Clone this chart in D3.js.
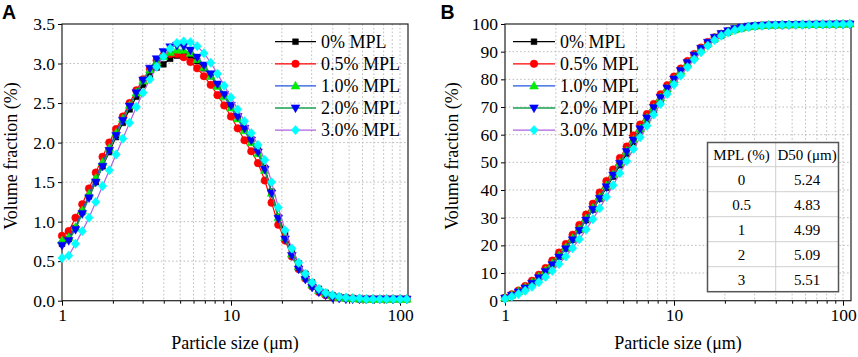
<!DOCTYPE html>
<html>
<head>
<meta charset="utf-8">
<script src="https://cdn.jsdelivr.net/npm/d3@7"></script>
<style>
  html, body { margin: 0; padding: 0; background: #fff; }
  svg { display: block; }
</style>
</head>
<body>
<svg id="chart" width="858" height="357"></svg>
<script>
// ---------------- DATA ----------------
const seriesNames = ["0% MPL", "0.5% MPL", "1.0% MPL", "2.0% MPL", "3.0% MPL"];

// particle size bins (µm)
const sizes = [1.000,1.096,1.202,1.318,1.445,1.585,1.738,1.905,2.089,2.291,
  2.512,2.754,3.020,3.311,3.631,3.981,4.365,4.786,5.248,5.754,
  6.310,6.918,7.586,8.318,9.120,10.00,10.96,12.02,13.18,14.45,
  15.85,17.38,19.05,20.89,22.91,25.12,27.54,30.20,33.11,36.31,
  39.81,43.65,47.86,52.48,57.54,63.10,69.18,75.86,83.18,91.20,
  100.0,109.6];

// Panel A: volume fraction (%)
const fracMPL0 = [0.72,0.78,0.92,1.12,1.32,1.50,1.70,1.88,2.07,2.25,
  2.42,2.58,2.73,2.85,2.95,2.99,3.06,3.10,3.12,3.10,
  3.03,2.94,2.84,2.72,2.60,2.47,2.33,2.18,2.04,1.90,
  1.68,1.38,1.06,0.85,0.64,0.47,0.34,0.23,0.15,0.10,
  0.07,0.05,0.04,0.03,0.02,0.02,0.02,0.02,0.02,0.02,0.02,0.02];
const fracMPL05 = [0.82,0.88,1.05,1.22,1.42,1.62,1.82,2.00,2.17,2.33,
  2.50,2.66,2.80,2.93,3.04,3.10,3.12,3.12,3.08,3.02,
  2.94,2.84,2.73,2.60,2.47,2.33,2.18,2.03,1.89,1.74,
  1.52,1.24,0.96,0.76,0.56,0.40,0.28,0.18,0.11,0.07,
  0.05,0.04,0.03,0.03,0.02,0.02,0.02,0.02,0.02,0.02,0.02,0.02];
const fracMPL1 = [0.76,0.80,0.93,1.14,1.35,1.55,1.75,1.93,2.12,2.30,
  2.47,2.63,2.78,2.92,3.02,3.09,3.14,3.17,3.17,3.13,
  3.05,2.95,2.84,2.71,2.58,2.44,2.30,2.15,2.00,1.86,
  1.65,1.36,1.05,0.80,0.59,0.43,0.30,0.20,0.13,0.09,
  0.06,0.04,0.03,0.03,0.02,0.02,0.02,0.02,0.02,0.02,0.02,0.02];
const fracMPL2 = [0.70,0.76,0.90,1.10,1.30,1.50,1.70,1.90,2.09,2.28,
  2.46,2.63,2.79,2.94,3.06,3.15,3.21,3.23,3.22,3.17,
  3.08,2.98,2.87,2.74,2.61,2.47,2.33,2.18,2.03,1.88,
  1.66,1.36,1.04,0.78,0.57,0.40,0.27,0.17,0.11,0.07,
  0.04,0.03,0.02,0.02,0.02,0.02,0.02,0.02,0.02,0.02,0.02,0.02];
const fracMPL3 = [0.54,0.57,0.72,0.88,1.05,1.25,1.45,1.65,1.85,2.05,
  2.25,2.45,2.63,2.80,2.96,3.09,3.19,3.26,3.28,3.27,
  3.22,3.13,3.01,2.87,2.72,2.57,2.42,2.27,2.12,1.97,
  1.78,1.50,1.18,0.89,0.66,0.48,0.34,0.23,0.15,0.10,
  0.07,0.05,0.04,0.03,0.03,0.02,0.02,0.02,0.02,0.02,0.02,0.02];

// Panel B: cumulative volume fraction (%)
const cumMPL0 = [0.95,1.99,3.21,4.69,6.44,8.43,10.68,13.17,15.92,18.90,
  22.10,25.52,29.14,32.92,36.83,40.79,44.85,48.95,53.09,57.20,
  61.21,65.11,68.87,72.48,75.92,79.19,82.28,85.17,87.87,90.39,
  92.62,94.45,95.85,96.98,97.83,98.45,98.90,99.21,99.40,99.54,
  99.63,99.69,99.75,99.79,99.81,99.84,99.87,99.89,99.92,99.95,99.97,100.0];
const cumMPL05 = [1.10,2.27,3.67,5.30,7.20,9.37,11.80,14.47,17.37,20.48,
  23.82,27.38,31.12,35.03,39.10,43.24,47.41,51.58,55.69,59.73,
  63.66,67.45,71.10,74.57,77.87,80.99,83.90,86.61,89.14,91.46,
  93.49,95.15,96.43,97.45,98.20,98.73,99.10,99.35,99.49,99.59,
  99.65,99.71,99.75,99.79,99.81,99.84,99.87,99.89,99.92,99.95,99.97,100.0];
const cumMPL1 = [1.00,2.05,3.28,4.78,6.56,8.60,10.90,13.44,16.23,19.26,
  22.51,25.98,29.64,33.48,37.46,41.53,45.66,49.84,54.01,58.13,
  62.15,66.03,69.77,73.34,76.74,79.95,82.98,85.81,88.44,90.89,
  93.06,94.85,96.23,97.29,98.06,98.63,99.03,99.29,99.46,99.58,
  99.66,99.71,99.75,99.79,99.81,99.84,99.87,99.89,99.92,99.95,99.97,100.0];
const cumMPL2 = [0.92,1.92,3.11,4.56,6.27,8.24,10.48,12.98,15.73,18.73,
  21.97,25.43,29.11,32.98,37.01,41.15,45.38,49.63,53.87,58.04,
  62.10,66.02,69.80,73.41,76.84,80.09,83.16,86.03,88.70,91.18,
  93.36,95.16,96.52,97.55,98.30,98.83,99.18,99.41,99.55,99.64,
  99.70,99.74,99.76,99.79,99.82,99.84,99.87,99.89,99.92,99.95,99.97,100.0];
const cumMPL3 = [0.72,1.48,2.43,3.61,5.00,6.67,8.59,10.79,13.25,15.98,
  18.97,22.23,25.73,29.46,33.39,37.51,41.75,46.09,50.45,54.80,
  59.09,63.25,67.26,71.07,74.69,78.11,81.33,84.35,87.17,89.80,
  92.16,94.16,95.73,96.91,97.79,98.43,98.88,99.19,99.39,99.52,
  99.61,99.68,99.73,99.77,99.81,99.84,99.87,99.89,99.92,99.95,99.97,100.0];

// Table in panel B
const tableHeader = ["MPL (%)", "D50 (\u03bcm)"];
const tableMPL = ["0", "0.5", "1", "2", "3"];
const tableD50 = ["5.24", "4.83", "4.99", "5.09", "5.51"];

// Tick labels
const xMajorTicks = [1, 10, 100];
const xMinorTicks = [2,3,4,5,6,7,8,9,20,30,40,50,60,70,80,90];
const yTicksA = [0.0,0.5,1.0,1.5,2.0,2.5,3.0,3.5];
const yTicksB = [0,10,20,30,40,50,60,70,80,90,100];

// ---------------- STYLE ----------------
const styles = [
  { line: "#000000", fill: "#000000", shape: "square" },
  { line: "#ff0000", fill: "#ff0000", shape: "circle" },
  { line: "#1f56e0", fill: "#00ee00", shape: "triUp" },
  { line: "#1aa050", fill: "#0000ff", shape: "triDown" },
  { line: "#b060e0", fill: "#00ffff", shape: "diamond" }
];
const serif = "Liberation Serif";

function symbolPath(shape) {
  switch (shape) {
    case "square": { const s = 5.8; return `M${-s/2},${-s/2}h${s}v${s}h${-s}Z`; }
    case "circle": { const r = 3.8; return `M${r},0A${r},${r} 0 1,1 ${-r},0A${r},${r} 0 1,1 ${r},0Z`; }
    case "triUp": { const w = 8.8, h = 7.8; return `M0,${-h*0.6}L${w/2},${h*0.4}L${-w/2},${h*0.4}Z`; }
    case "triDown": { const w = 8.8, h = 7.8; return `M0,${h*0.6}L${w/2},${-h*0.4}L${-w/2},${-h*0.4}Z`; }
    case "diamond": { const w = 8.4, h = 9.4; return `M0,${-h/2}L${w/2},0L0,${h/2}L${-w/2},0Z`; }
  }
}

const svg = d3.select("#chart");

function drawPanel(cfg) {
  const x = d3.scaleLog().domain([1, 111.5]).range([cfg.left, cfg.right]);
  const y = d3.scaleLinear().domain(cfg.yDomain).range([cfg.bottom, cfg.top]);
  const g = svg.append("g");

  // grid
  const grid = g.append("g").attr("stroke", "#bdbdbd").attr("stroke-width", 1)
    .attr("stroke-dasharray", "1.6,2.2").attr("fill", "none");
  grid.selectAll("line.vx").data(xMinorTicks.concat([10, 100])).join("line")
    .attr("x1", d => x(d)).attr("x2", d => x(d))
    .attr("y1", cfg.top).attr("y2", cfg.bottom);
  grid.selectAll("line.hy").data(cfg.yTicks.filter(t => t > cfg.yDomain[0] && t < cfg.yDomain[1])).join("line")
    .attr("x1", cfg.left).attr("x2", cfg.right)
    .attr("y1", d => y(d)).attr("y2", d => y(d));

  // axes
  const xAxis = g.append("g").attr("transform", `translate(0,${cfg.bottom})`)
    .call(d3.axisBottom(x).tickValues(xMajorTicks).tickFormat(d3.format("d")).tickSize(5).tickPadding(3));
  xAxis.select(".domain").remove();
  xAxis.selectAll("text").attr("y", 8).attr("dy", "0.71em")
    .attr("font-family", serif).attr("font-size", 17.5).attr("fill", "#000");
  xAxis.selectAll("line").attr("stroke", "#000");
  const xMinor = g.append("g").attr("transform", `translate(0,${cfg.bottom})`)
    .call(d3.axisBottom(x).tickValues(xMinorTicks).tickFormat("").tickSize(3));
  xMinor.select(".domain").remove();
  xMinor.selectAll("line").attr("stroke", "#000");

  const yAxis = g.append("g").attr("transform", `translate(${cfg.left},0)`)
    .call(d3.axisLeft(y).tickValues(cfg.yTicks).tickFormat(cfg.yFormat).tickSize(4).tickPadding(3));
  yAxis.select(".domain").remove();
  yAxis.selectAll("text").attr("font-family", serif).attr("font-size", 17.5).attr("fill", "#000");
  yAxis.selectAll("line").attr("stroke", "#000");

  // frame
  g.append("rect").attr("x", cfg.left).attr("y", cfg.top)
    .attr("width", cfg.right - cfg.left).attr("height", cfg.bottom - cfg.top)
    .attr("fill", "none").attr("stroke", "#222").attr("stroke-width", 1.2);

  // axis titles
  g.append("text").attr("x", (cfg.left + cfg.right) / 2).attr("y", 349)
    .attr("text-anchor", "middle").attr("font-family", serif).attr("font-size", 18)
    .text("Particle size (\u03bcm)");
  g.append("text").attr("transform", `translate(${cfg.yTitleX},156) rotate(-90)`)
    .attr("text-anchor", "middle").attr("font-family", serif).attr("font-size", 18)
    .text("Volume fraction (%)");

  // panel label
  g.append("text").attr("x", cfg.labelX).attr("y", 18.5)
    .attr("font-family", "Liberation Sans").attr("font-weight", "bold")
    .attr("font-size", 19.5).text(cfg.label);

  // legend
  const legend = g.append("g");
  seriesNames.forEach((name, i) => {
    const ly = 41.7 + i * 22.1;
    const st = styles[i];
    legend.append("line").attr("x1", cfg.legX1).attr("x2", cfg.legX2)
      .attr("y1", ly).attr("y2", ly).attr("stroke", st.line).attr("stroke-width", 1.3);
    legend.append("path").attr("d", symbolPath(st.shape))
      .attr("transform", `translate(${(cfg.legX1 + cfg.legX2) / 2},${ly})`)
      .attr("fill", st.fill).attr("stroke", st.fill).attr("stroke-width", 0.5);
    legend.append("text").attr("x", cfg.legX2 + 5).attr("y", ly).attr("dy", "0.33em")
      .attr("font-family", serif).attr("font-size", 18).text(name);
  });

  // series
  const lineGen = d3.line().x((d, j) => x(sizes[j])).y(d => y(d));
  cfg.series.forEach((vals, i) => {
    const st = styles[i];
    const sg = g.append("g");
    sg.append("path").datum(vals).attr("d", lineGen)
      .attr("fill", "none").attr("stroke", st.line).attr("stroke-width", 1.2);
    sg.selectAll("path.m").data(vals).join("path").attr("class", "m")
      .attr("d", symbolPath(st.shape))
      .attr("transform", (d, j) => `translate(${x(sizes[j])},${y(d)})`)
      .attr("fill", st.fill).attr("stroke", st.fill).attr("stroke-width", 0.5);
  });
  return g;
}

drawPanel({
  left: 62, right: 408, top: 24, bottom: 300.7,
  yDomain: [0, 3.5], yTicks: yTicksA, yFormat: d3.format(".1f"),
  yTitleX: 17, label: "A", labelX: 2,
  legX1: 275, legX2: 316,
  series: [fracMPL0, fracMPL05, fracMPL1, fracMPL2, fracMPL3]
});

drawPanel({
  left: 505, right: 851, top: 24, bottom: 300.7,
  yDomain: [0, 100], yTicks: yTicksB, yFormat: d3.format("d"),
  yTitleX: 458, label: "B", labelX: 440.5,
  legX1: 513, legX2: 555,
  series: [cumMPL0, cumMPL05, cumMPL1, cumMPL2, cumMPL3]
});

// table in panel B
(function drawTable() {
  const tx = 707.5, ty = 142.5, tw = 131, colX = 775.7;
  const headH = 24.2, rowH = 25;
  const tg = svg.append("g");
  const th = headH + rowH * tableMPL.length;
  tg.append("rect").attr("x", tx).attr("y", ty).attr("width", tw).attr("height", th)
    .attr("fill", "#fff");
  tg.append("line").attr("x1", colX).attr("x2", colX).attr("y1", ty).attr("y2", ty + th)
    .attr("stroke", "#cfcfcf").attr("stroke-width", 1);
  tableMPL.forEach((m, i) => {
    const yTop = ty + headH + i * rowH;
    tg.append("line").attr("x1", tx).attr("x2", tx + tw).attr("y1", yTop).attr("y2", yTop)
      .attr("stroke", "#cfcfcf").attr("stroke-width", 1);
  });
  tg.append("rect").attr("x", tx).attr("y", ty).attr("width", tw).attr("height", th)
    .attr("fill", "none").attr("stroke", "#555").attr("stroke-width", 1.5);
  const c1 = (tx + colX) / 2, c2 = (colX + tx + tw) / 2;
  tg.append("text").attr("x", c1).attr("y", ty + headH / 2 + 5.5).attr("text-anchor", "middle")
    .attr("font-family", serif).attr("font-size", 15).text(tableHeader[0]);
  tg.append("text").attr("x", c2).attr("y", ty + headH / 2 + 5.5).attr("text-anchor", "middle")
    .attr("font-family", serif).attr("font-size", 15).text(tableHeader[1]);
  tableMPL.forEach((m, i) => {
    const yMid = ty + headH + i * rowH + rowH / 2;
    tg.append("text").attr("x", c1).attr("y", yMid + 5.5).attr("text-anchor", "middle")
      .attr("font-family", serif).attr("font-size", 15).text(m);
    tg.append("text").attr("x", c2).attr("y", yMid + 5.5).attr("text-anchor", "middle")
      .attr("font-family", serif).attr("font-size", 15).text(tableD50[i]);
  });
})();
</script>
</body>
</html>
